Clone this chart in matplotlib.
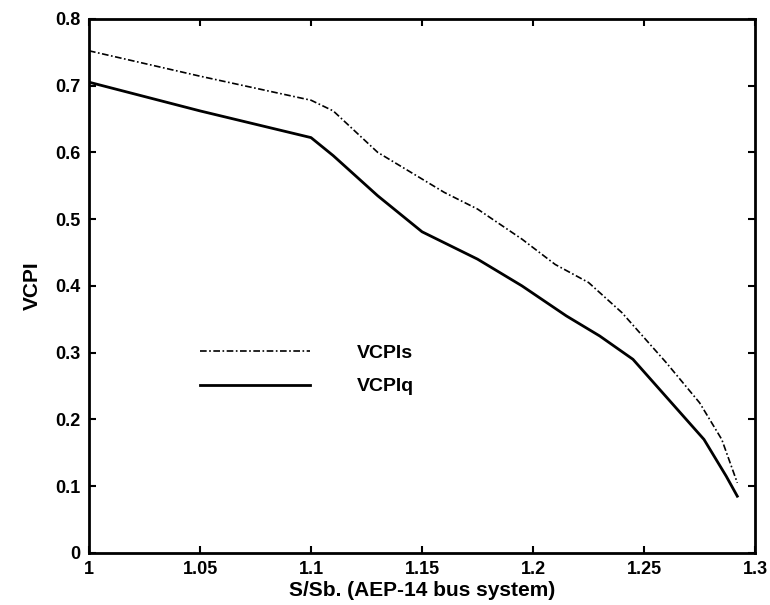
import numpy as np
import matplotlib
matplotlib.use('Agg')
import matplotlib.pyplot as plt
from matplotlib.ticker import FuncFormatter

plt.rcParams['font.family'] = ['Liberation Sans', 'DejaVu Sans']
plt.rcParams['font.weight'] = 'bold'

# VCPIs curve (dash-dot)
x_s = [1.0, 1.05, 1.10, 1.11, 1.13, 1.15, 1.16, 1.175, 1.195, 1.21, 1.225, 1.24, 1.26, 1.275, 1.285, 1.292]
vcpi_s = [0.752, 0.714, 0.678, 0.662, 0.600, 0.560, 0.540, 0.515, 0.470, 0.432, 0.405, 0.360, 0.285, 0.225, 0.170, 0.105]

# VCPIq curve (solid)
x_q = [1.0, 1.05, 1.10, 1.11, 1.13, 1.15, 1.175, 1.195, 1.215, 1.23, 1.245, 1.257, 1.277, 1.287, 1.292]
vcpi_q = [0.705, 0.662, 0.622, 0.595, 0.535, 0.481, 0.440, 0.400, 0.355, 0.325, 0.290, 0.245, 0.170, 0.115, 0.085]

xticks = [1, 1.05, 1.1, 1.15, 1.2, 1.25, 1.3]
yticks = [0, 0.1, 0.2, 0.3, 0.4, 0.5, 0.6, 0.7, 0.8]

fig = plt.figure(figsize=(7.7, 6.05), dpi=100)
ax = fig.add_axes([0.1156, 0.086, 0.865, 0.883])

ax.plot(x_s, vcpi_s, color='black', lw=1.2, linestyle=(0, (4, 1.5, 1, 1.5)), label='VCPIs')
ax.plot(x_q, vcpi_q, color='black', lw=2.0, label='VCPIq')

ax.set_xlim(1, 1.3)
ax.set_ylim(0, 0.8)
ax.set_xticks(xticks)
ax.set_yticks(yticks)
ax.xaxis.set_major_formatter(FuncFormatter(lambda v, p: '%g' % v))
ax.yaxis.set_major_formatter(FuncFormatter(lambda v, p: '%g' % v))
ax.tick_params(direction='in', top=True, right=True, length=5, width=1.5, labelsize=13, pad=6)
for sp in ax.spines.values():
    sp.set_linewidth(2)

ax.set_xlabel('S/Sb. (AEP-14 bus system)', fontsize=15, fontweight='bold', labelpad=2)
ax.set_ylabel('VCPI', fontsize=15, fontweight='bold', labelpad=10)

ax.legend(loc='upper left', bbox_to_anchor=(0.167, 0.39), frameon=False, fontsize=14,
          handlelength=5.67, handletextpad=2.4, borderpad=0, borderaxespad=0, labelspacing=0.8)

plt.savefig('out.png', dpi=100)
